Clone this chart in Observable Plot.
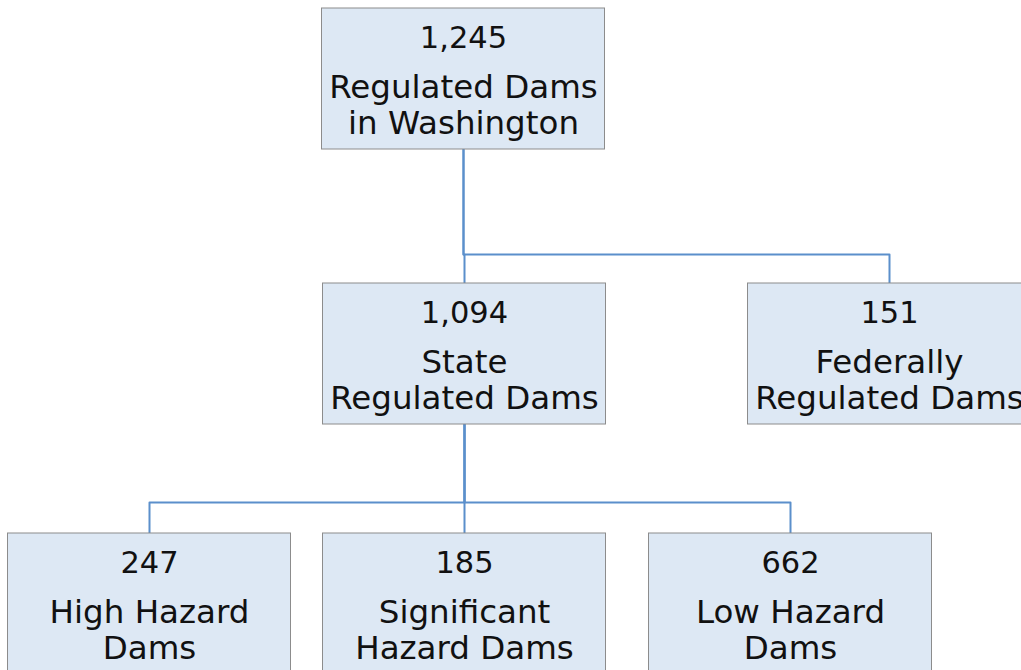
<!DOCTYPE html>
<html>
<head>
<meta charset="utf-8">
<script src="https://cdn.jsdelivr.net/npm/d3@7"></script>
<script src="https://cdn.jsdelivr.net/npm/@observablehq/plot@0.6"></script>
<style>
  html, body { margin: 0; padding: 0; background: #ffffff; overflow: hidden; }
  #chart svg { display: block; }
</style>
</head>
<body>
<div id="chart"></div>
<script>
// ---- Data ----
const nodeIds = ["root", "state", "federal", "high", "significant", "low"];
const nodeValues = [1245, 1094, 151, 247, 185, 662];
const nodeLabels = [
  "Regulated Dams\nin Washington",
  "State\nRegulated Dams",
  "Federally\nRegulated Dams",
  "High Hazard\nDams",
  "Significant\nHazard Dams",
  "Low Hazard\nDams"
];
const nodeParents = [null, "root", "root", "state", "state", "state"];

// ---- Layout (positions, separate from data) ----
const W = 1021, H = 670;
const levelTop = [8, 283, 533];
const elbowGap = [0, 29, 31];
const boxW = 283, boxH = 141;
const columnCenter = {root: 463, state: 464, federal: 889, high: 149, significant: 464, low: 790};

const byId = new Map();
const nodes = nodeIds.map((id, i) => {
  const parent = nodeParents[i];
  const level = parent == null ? 0 : byId.get(parent).level + 1;
  const n = {
    id, parent, level,
    value: d3.format(",")(nodeValues[i]),
    label: nodeLabels[i],
    cx: columnCenter[id],
    top: levelTop[level]
  };
  n.x1 = n.cx - boxW / 2; n.x2 = n.cx + boxW / 2;
  n.y1 = n.top; n.y2 = n.top + boxH;
  byId.set(id, n);
  return n;
});

const linkPts = [];
nodes.filter(n => n.parent).forEach(n => {
  const p = byId.get(n.parent);
  const midY = n.top - elbowGap[n.level];
  linkPts.push({e: n.id, x: p.cx, y: p.y2});
  linkPts.push({e: n.id, x: p.cx, y: midY});
  linkPts.push({e: n.id, x: n.cx, y: midY});
  linkPts.push({e: n.id, x: n.cx, y: n.top});
});

const font = "DejaVu Sans, sans-serif";

const chart = Plot.plot({
  width: W,
  height: H,
  margin: 0,
  x: {domain: [0, W], range: [0, W], axis: null},
  y: {domain: [0, H], range: [0, H], axis: null},
  style: {fontFamily: font, background: "#ffffff"},
  marks: [
    Plot.line(linkPts, {x: "x", y: "y", z: "e", stroke: "#5b8fcb", strokeWidth: 2, curve: "linear"}),
    Plot.rect(nodes, {x1: "x1", x2: "x2", y1: "y1", y2: "y2", fill: "#dde8f4", stroke: "#8c8c8c", strokeWidth: 1}),
    Plot.text(nodes, {x: "cx", y: d => d.top + 17.5, text: "value", lineAnchor: "top", fontSize: 30.5, fill: "#111111"}),
    Plot.text(nodes, {x: "cx", y: d => d.top + 64, text: "label", lineAnchor: "top", lineHeight: 1.108, fontSize: 32.5, fill: "#111111"})
  ]
});
document.getElementById("chart").appendChild(chart);
</script>
</body>
</html>
